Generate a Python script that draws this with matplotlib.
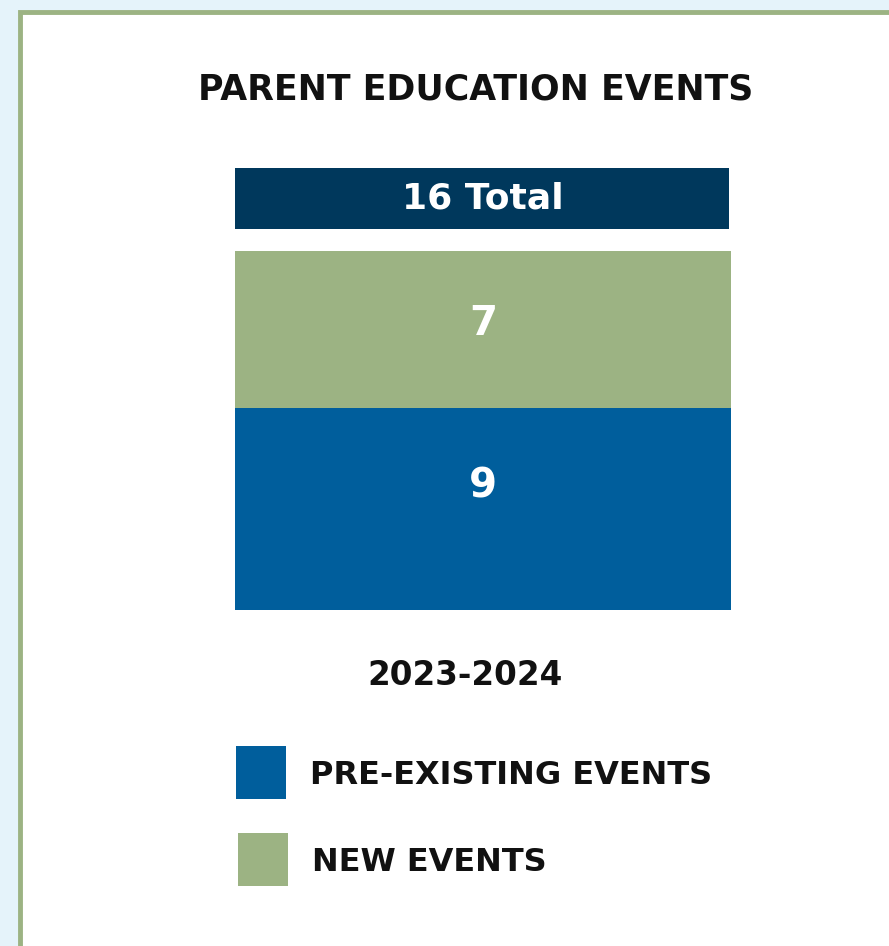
import matplotlib.pyplot as plt
from matplotlib.patches import Rectangle
import matplotlib.transforms as mtransforms

# data
season = '2023-2024'
categories = ['PRE-EXISTING EVENTS', 'NEW EVENTS']
values = [9, 7]
colors = ['#005e9c', '#9cb383']
total = sum(values)

W, H = 889, 946
fig = plt.figure(figsize=(W / 100, H / 100), dpi=100)
fig.patch.set_facecolor('#e5f3fa')
plt.rcParams['font.family'] = ['DejaVu Sans']


def fx(px):
    return px / W


def fy(py):
    return 1 - py / H


# white panel with green border (right and bottom edges run off the canvas)
fig.patches.append(Rectangle((fx(20), -0.05), 1.1, fy(12) + 0.05, transform=fig.transFigure,
                             facecolor='white', edgecolor='#9cb383', linewidth=3.5, zorder=0))

fig.text(fx(476), fy(100), 'PARENT EDUCATION EVENTS', ha='center', va='baseline',
         fontsize=25, fontweight='bold', color='#111111')

# total box
fig.patches.append(Rectangle((fx(235), fy(229)), fx(494), 61 / H, transform=fig.transFigure,
                             facecolor='#00385c', edgecolor='none', zorder=1))
fig.text(fx(482.5), fy(208), f'{total} Total', ha='center', va='baseline',
         fontsize=26, fontweight='bold', color='white')

# stacked bar
ax = fig.add_axes([fx(235), fy(610), fx(496), 359 / H], zorder=3)
ax.patch.set_visible(False)
label_shift = [-23, -6]  # px, labels sit a bit above the segment centre
bottom = 0
for v, c, dy in zip(values, colors, label_shift):
    ax.bar(0, v, width=1, bottom=bottom, color=c)
    tr = ax.transData + mtransforms.ScaledTranslation(0, -dy / 100, fig.dpi_scale_trans)
    ax.text(0, bottom + v / 2, str(v), ha='center', va='center', transform=tr,
            fontsize=29, fontweight='bold', color='white')
    bottom += v
ax.set_xlim(-0.5, 0.5)
ax.set_ylim(0, total)
ax.axis('off')

fig.text(fx(465.5), fy(685), season, ha='center', va='baseline',
         fontsize=23.5, fontweight='bold', color='#111111')

# legend
leg_top = [746, 833]
leg_x = [236, 238]
for lx, top, lab, c in zip(leg_x, leg_top, categories, colors):
    fig.patches.append(Rectangle((fx(lx), fy(top + 53)), fx(50), 53 / H, transform=fig.transFigure,
                                 facecolor=c, edgecolor='none', zorder=1))
    fig.text(fx(lx + 74), fy(top + 38), lab, ha='left', va='baseline',
             fontsize=23, fontweight='bold', color='#111111')

fig.savefig('out.png', dpi=100, facecolor=fig.get_facecolor())
